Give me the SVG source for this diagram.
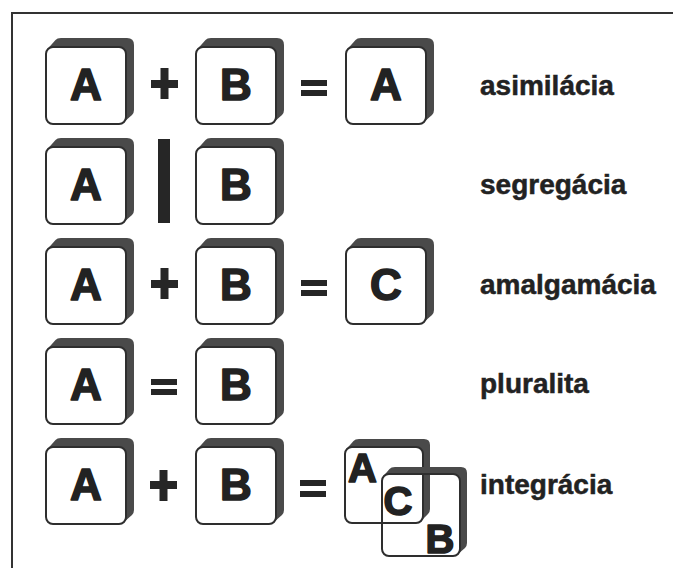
<svg xmlns="http://www.w3.org/2000/svg" xmlns:xlink="http://www.w3.org/1999/xlink" width="673" height="568" viewBox="0 0 673 568">
<style>
.band{fill:#4a4a4a}
.face{fill:#fff;stroke:#2e2e2e;stroke-width:2}
.open{fill:none;stroke:#2e2e2e;stroke-width:2}
.let{font-family:"Liberation Sans",Arial,sans-serif;font-weight:700;font-size:44px;fill:#222;stroke:#222;stroke-width:1.6;stroke-linejoin:round;text-anchor:middle}
.small{font-size:40px}
.lbl{font-family:"Liberation Sans",Arial,sans-serif;font-weight:700;font-size:28px;fill:#222;stroke:#222;stroke-width:0.5}
.op{fill:#262626}
.frame{fill:none;stroke:#333;stroke-width:2}
</style>
<defs>
<g id="blk">
<path class="band" d="M1.5,2 L9.5,-7 Q11,-9 15,-9 L81,-9 Q88,-9 88,-2 L88,63 Q88,66 86,68 L78,75 L80,70 L80,7 Q80,0 73,0 L7,0 Q3,0 1.5,2 Z"/>
<rect class="face" x="0" y="0" width="80" height="77" rx="7"/>
</g>
</defs>
<rect width="673" height="568" fill="#fff"/>
<path class="frame" d="M12,568 L12,13 L673,13"/>

<g id="row1">
<g id="r1-a"><use xlink:href="#blk" x="46" y="47"/><text class="let" x="86" y="100">A</text></g>
<g id="r1-plus"><rect class="op" x="151" y="80" width="27" height="8"/><rect class="op" x="160.5" y="68" width="8" height="31"/></g>
<g id="r1-b"><use xlink:href="#blk" x="196" y="47"/><text class="let" x="236" y="100">B</text></g>
<g id="r1-eq"><rect class="op" x="301" y="80" width="26" height="6"/><rect class="op" x="301" y="90" width="26" height="6"/></g>
<g id="r1-res"><use xlink:href="#blk" x="346" y="47"/><text class="let" x="386" y="100">A</text></g>
<text class="lbl" x="480" y="95">asimilácia</text>
</g>

<g id="row2">
<g id="r2-a"><use xlink:href="#blk" x="46" y="147"/><text class="let" x="86" y="200">A</text></g>
<g id="r2-bar"><rect class="op" x="158" y="139" width="12" height="84"/></g>
<g id="r2-b"><use xlink:href="#blk" x="196" y="147"/><text class="let" x="236" y="200">B</text></g>
<text class="lbl" x="480" y="194">segregácia</text>
</g>

<g id="row3">
<g id="r3-a"><use xlink:href="#blk" x="46" y="247"/><text class="let" x="86" y="300">A</text></g>
<g id="r3-plus"><rect class="op" x="151" y="280" width="27" height="8"/><rect class="op" x="160.5" y="268" width="8" height="31"/></g>
<g id="r3-b"><use xlink:href="#blk" x="196" y="247"/><text class="let" x="236" y="300">B</text></g>
<g id="r3-eq"><rect class="op" x="301" y="280" width="26" height="6"/><rect class="op" x="301" y="290" width="26" height="6"/></g>
<g id="r3-res"><use xlink:href="#blk" x="346" y="247"/><text class="let" x="386" y="300">C</text></g>
<text class="lbl" x="480" y="294">amalgamácia</text>
</g>

<g id="row4">
<g id="r4-a"><use xlink:href="#blk" x="46" y="347"/><text class="let" x="86" y="400">A</text></g>
<g id="r4-eq"><rect class="op" x="151" y="379" width="26" height="6"/><rect class="op" x="151" y="389" width="26" height="6"/></g>
<g id="r4-b"><use xlink:href="#blk" x="196" y="347"/><text class="let" x="236" y="400">B</text></g>
<text class="lbl" x="480" y="393">pluralita</text>
</g>

<g id="row5">
<g id="r5-a"><use xlink:href="#blk" x="46" y="447"/><text class="let" x="86" y="500">A</text></g>
<g id="r5-plus"><rect class="op" x="150" y="481" width="27" height="8"/><rect class="op" x="159.5" y="470" width="8" height="31"/></g>
<g id="r5-b"><use xlink:href="#blk" x="196" y="447"/><text class="let" x="236" y="500">B</text></g>
<g id="r5-eq"><rect class="op" x="300" y="480" width="26" height="6"/><rect class="op" x="300" y="491" width="26" height="6"/></g>
<g id="r5-res">
<path class="band" d="M346.5,449 L353.5,441 Q355,439 359,439 L424,439 Q430,439 430,445 L430,509 Q430,512 428,514 L421,521 L423,516 L423,454 Q423,447 416,447 L352,447 Q348,447 346.5,449 Z"/>
<rect class="open" x="345" y="447" width="78" height="76" rx="7"/>
<path class="band" d="M383.5,476 L389.5,469 Q391,467 395,467 L461,467 Q467,467 467,473 L467,543 Q467,546 465,548 L458,554 L460,549 L460,481 Q460,474 453,474 L389,474 Q385,474 383.5,476 Z"/>
<rect class="open" x="382" y="474" width="78" height="82" rx="7"/>
<text class="let small" x="362.5" y="482">A</text>
<text class="let small" x="398" y="515">C</text>
<text class="let small" x="440" y="553">B</text>
</g>
<text class="lbl" x="480" y="494">integrácia</text>
</g>
</svg>
